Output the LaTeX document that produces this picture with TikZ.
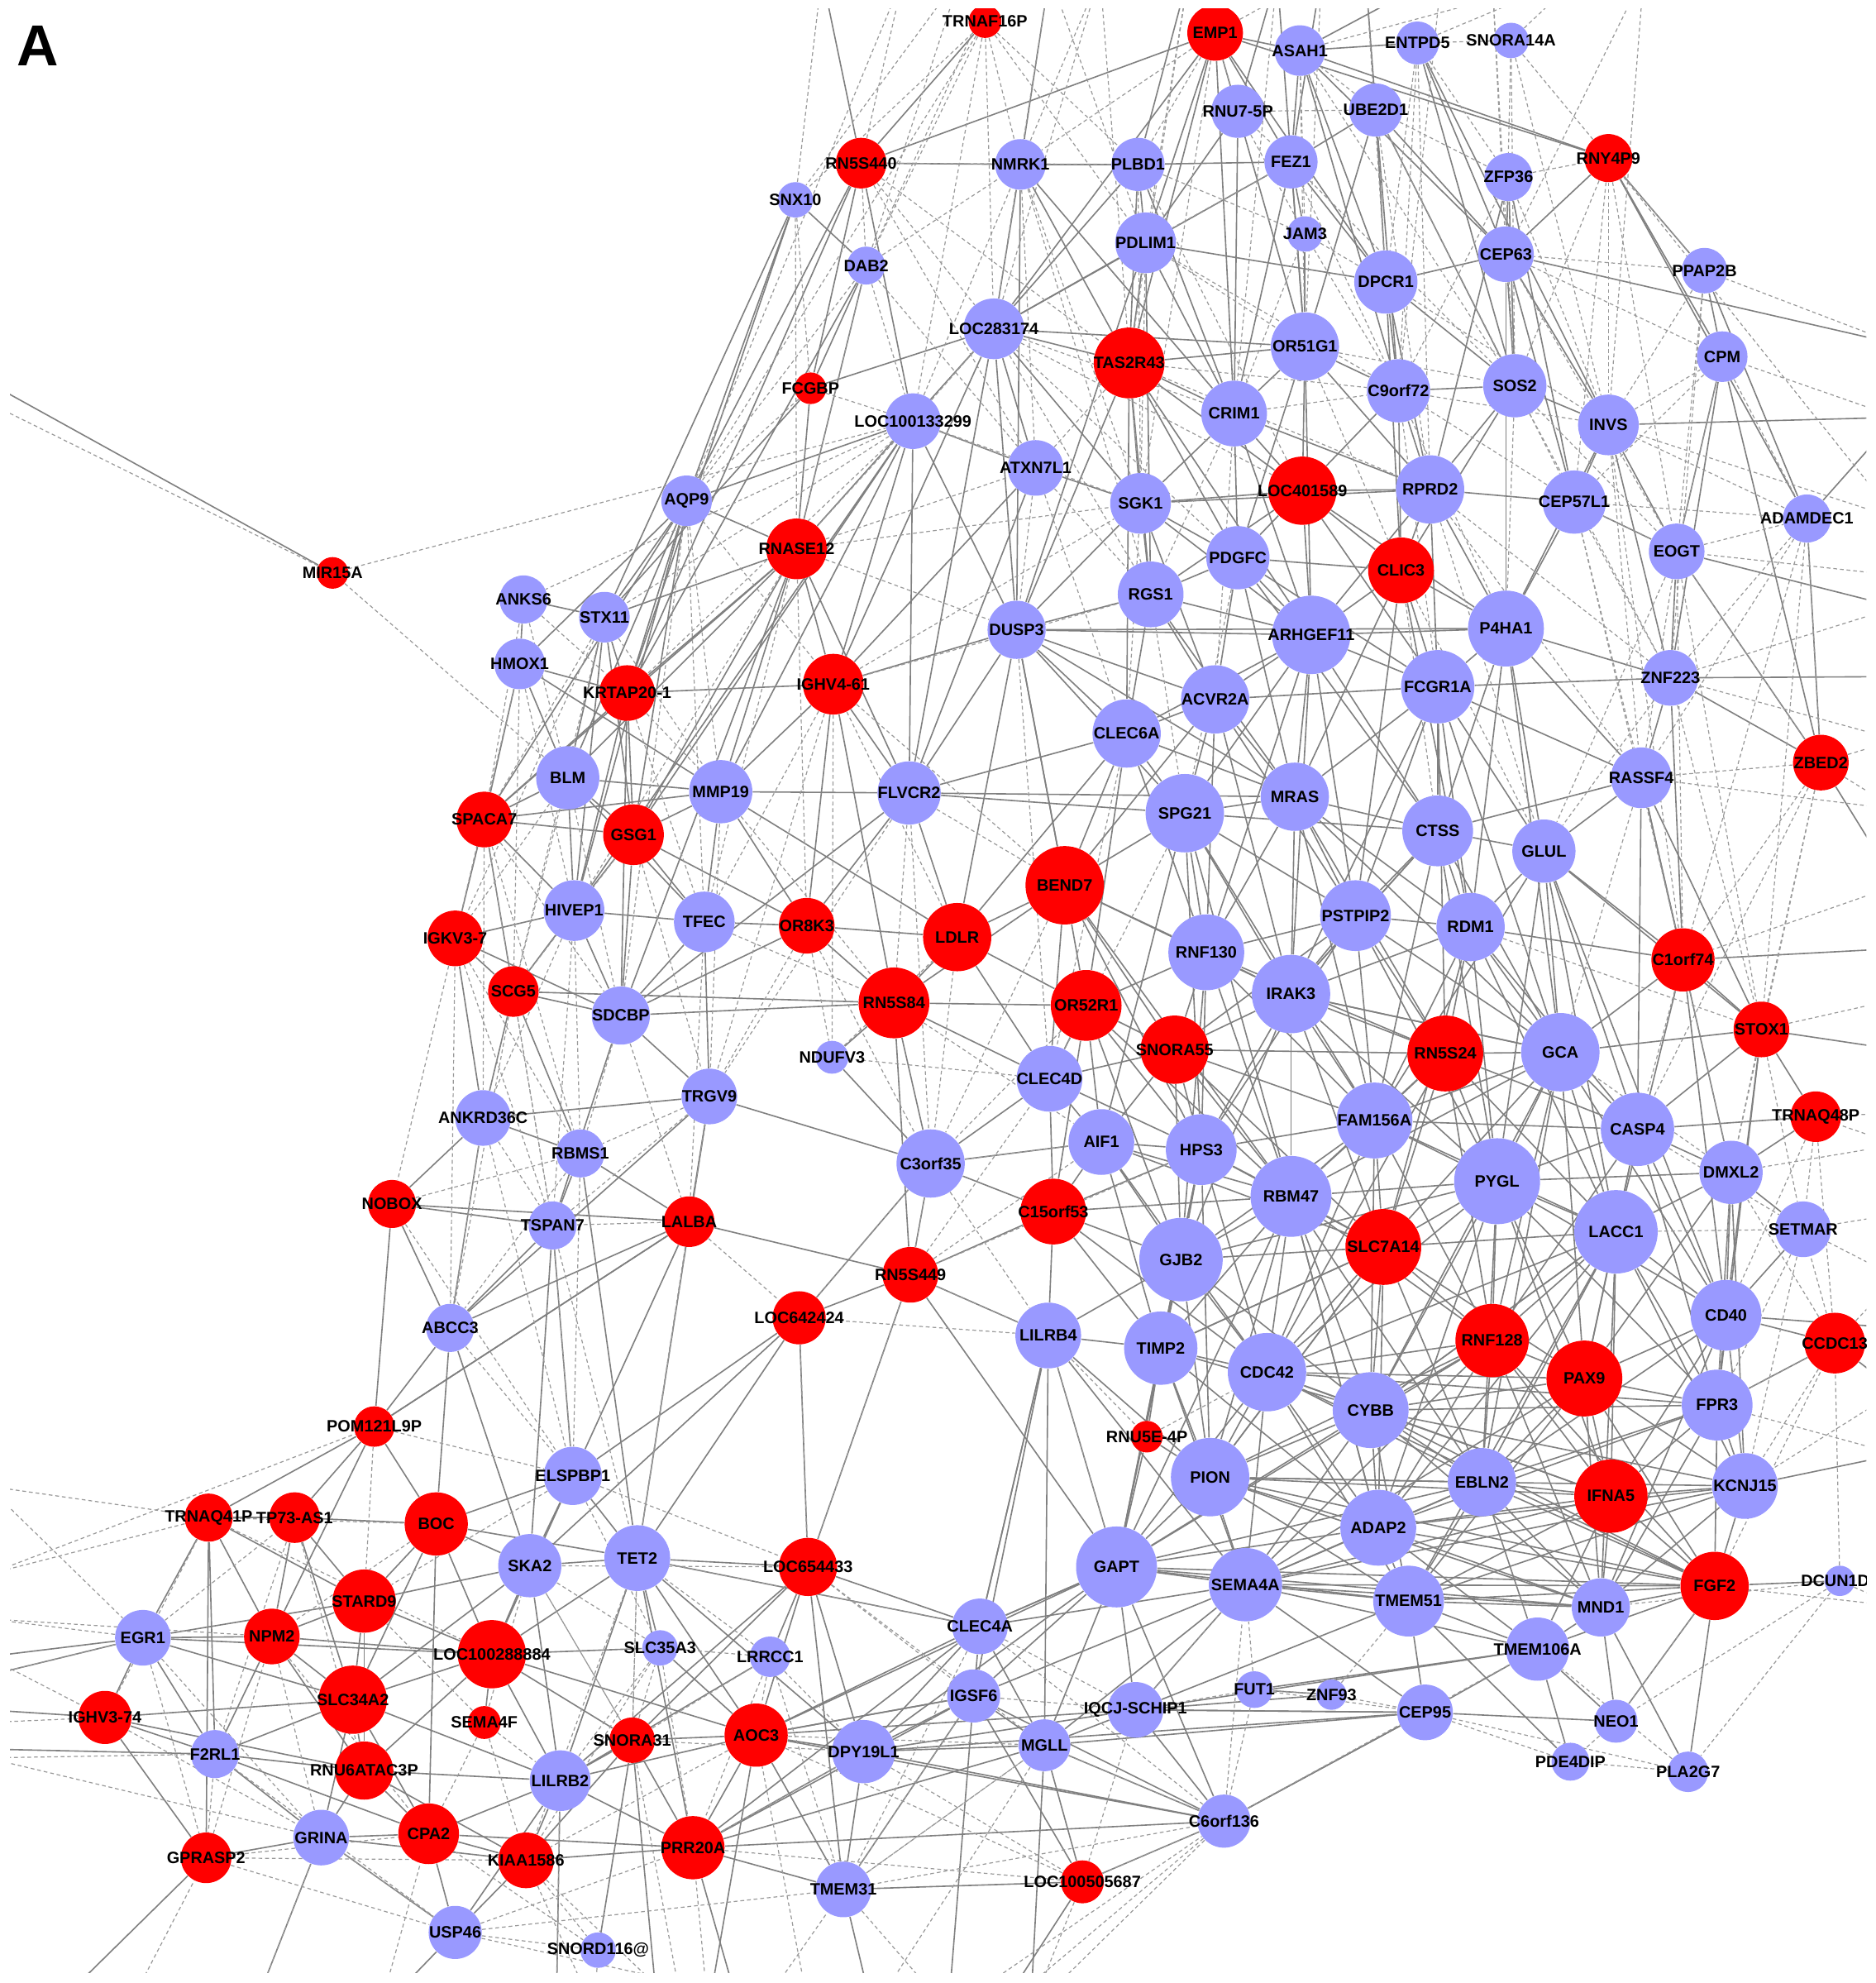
\documentclass[tikz,border=0pt]{standalone}
\usepackage{fontspec}
\setmainfont{Liberation Sans}
\definecolor{nred}{RGB}{255,0,0}
\definecolor{nblue}{RGB}{153,153,255}
\pgfdeclarelayer{back}
\pgfdeclarelayer{bg}
\pgfsetlayers{back,bg,main}
\tikzset{
  gnode/.style={circle,draw=none,inner sep=0pt,font=\fontsize{7.4}{8}\selectfont\bfseries},
  sedge/.style={draw=black!50,line width=0.6pt},
  dedge/.style={draw=black!40,line width=0.45pt,dash pattern=on 1.7pt off 1.3pt},
  panel/.style={font=\fontsize{26}{28}\selectfont\bfseries}
}
\newcommand\gn[6]{\node[gnode,fill=#5,minimum size=#4*0.04cm] (#1) at (#2,#3) {\makebox[0pt]{#6}};}
\begin{document}
\begin{tikzpicture}[x=0.02cm,y=-0.02cm]
\begin{pgfonlayer}{back}
\fill[white] (0,0) rectangle (1483,1568);
\end{pgfonlayer}
\useasboundingbox (0,0) rectangle (1483,1568);
\node[panel] (lblA) at (30,36) {A};
\begin{scope}
\clip (8,7) rectangle (1476,1560);
% ---------------- nodes ----------------
\gn{TRNAF16P}{779}{17}{13}{nred}{TRNAF16P}
\gn{EMP1}{961}{26}{22}{nred}{EMP1}
\gn{ASAH1}{1028}{40}{20}{nblue}{ASAH1}
\gn{ENTPD5}{1121}{34}{17}{nblue}{ENTPD5}
\gn{SNORA14A}{1195}{32}{14}{nblue}{SNORA14A}
\gn{RNU75P}{979}{88}{21}{nblue}{RNU7-5P}
\gn{UBE2D1}{1088}{87}{21}{nblue}{UBE2D1}
\gn{RN5S440}{681}{129}{20}{nred}{RN5S440}
\gn{NMRK1}{807}{130}{20}{nblue}{NMRK1}
\gn{PLBD1}{900}{130}{21}{nblue}{PLBD1}
\gn{FEZ1}{1021}{128}{21}{nblue}{FEZ1}
\gn{RNY4P9}{1272}{125}{19}{nred}{RNY4P9}
\gn{ZFP36}{1193}{140}{19}{nblue}{ZFP36}
\gn{SNX10}{629}{158}{14}{nblue}{SNX10}
\gn{DAB2}{685}{210}{15}{nblue}{DAB2}
\gn{PDLIM1}{906}{192}{24}{nblue}{PDLIM1}
\gn{JAM3}{1032}{185}{14}{nblue}{JAM3}
\gn{CEP63}{1191}{201}{22}{nblue}{CEP63}
\gn{DPCR1}{1096}{223}{25}{nblue}{DPCR1}
\gn{PPAP2B}{1348}{214}{18}{nblue}{PPAP2B}
\gn{LOC283174}{786}{260}{24}{nblue}{LOC283174}
\gn{TAS2R43}{893}{287}{28}{nred}{TAS2R43}
\gn{OR51G1}{1032}{274}{27}{nblue}{OR51G1}
\gn{CPM}{1362}{282}{20}{nblue}{CPM}
\gn{C9orf72}{1106}{309}{25}{nblue}{C9orf72}
\gn{SOS2}{1198}{305}{25}{nblue}{SOS2}
\gn{FCGBP}{641}{307}{12.5}{nred}{FCGBP}
\gn{LOC100133299}{722}{333}{22}{nblue}{LOC100133299}
\gn{CRIM1}{976}{327}{26}{nblue}{CRIM1}
\gn{INVS}{1272}{336}{24}{nblue}{INVS}
\gn{ATXN7L1}{819}{370}{22}{nblue}{ATXN7L1}
\gn{AQP9}{543}{396}{20}{nblue}{AQP9}
\gn{SGK1}{902}{398}{24}{nblue}{SGK1}
\gn{LOC401589}{1030}{388}{27}{nred}{LOC401589}
\gn{RPRD2}{1131}{387}{27}{nblue}{RPRD2}
\gn{CEP57L1}{1245}{397}{25}{nblue}{CEP57L1}
\gn{ADAMDEC1}{1429}{410}{19}{nblue}{ADAMDEC1}
\gn{MIR15A}{263}{453}{12.5}{nred}{MIR15A}
\gn{RNASE12}{630}{434}{24}{nred}{RNASE12}
\gn{PDGFC}{979}{441}{25}{nblue}{PDGFC}
\gn{CLIC3}{1108}{451}{26}{nred}{CLIC3}
\gn{EOGT}{1326}{436}{22}{nblue}{EOGT}
\gn{ANKS6}{414}{474}{19}{nblue}{ANKS6}
\gn{STX11}{478}{488}{20}{nblue}{STX11}
\gn{RGS1}{910}{470}{26}{nblue}{RGS1}
\gn{DUSP3}{804}{498}{23}{nblue}{DUSP3}
\gn{ARHGEF11}{1037}{502}{31}{nblue}{ARHGEF11}
\gn{P4HA1}{1191}{497}{30}{nblue}{P4HA1}
\gn{HMOX1}{411}{525}{20}{nblue}{HMOX1}
\gn{KRTAP201}{496}{548}{22}{nred}{KRTAP20-1}
\gn{IGHV461}{659}{541}{24}{nred}{IGHV4-61}
\gn{ACVR2A}{961}{553}{27}{nblue}{ACVR2A}
\gn{FCGR1A}{1137}{543}{29}{nblue}{FCGR1A}
\gn{ZNF223}{1321}{536}{22}{nblue}{ZNF223}
\gn{CLEC6A}{891}{580}{27}{nblue}{CLEC6A}
\gn{ZBED2}{1440}{603}{22}{nred}{ZBED2}
\gn{BLM}{449}{615}{25}{nblue}{BLM}
\gn{MMP19}{570}{626}{25}{nblue}{MMP19}
\gn{FLVCR2}{719}{627}{25}{nblue}{FLVCR2}
\gn{SPG21}{937}{643}{31}{nblue}{SPG21}
\gn{MRAS}{1024}{630}{27}{nblue}{MRAS}
\gn{RASSF4}{1298}{615}{24}{nblue}{RASSF4}
\gn{SPACA7}{383}{648}{22}{nred}{SPACA7}
\gn{GSG1}{501}{660}{24}{nred}{GSG1}
\gn{CTSS}{1137}{657}{28}{nblue}{CTSS}
\gn{GLUL}{1221}{673}{25}{nblue}{GLUL}
\gn{BEND7}{842}{700}{31}{nred}{BEND7}
\gn{HIVEP1}{454}{720}{24}{nblue}{HIVEP1}
\gn{TFEC}{557}{729}{24}{nblue}{TFEC}
\gn{OR8K3}{638}{732}{22}{nred}{OR8K3}
\gn{LDLR}{757}{741}{27}{nred}{LDLR}
\gn{PSTPIP2}{1072}{724}{28}{nblue}{PSTPIP2}
\gn{RDM1}{1163}{733}{27}{nblue}{RDM1}
\gn{IGKV37}{360}{742}{22}{nred}{IGKV3-7}
\gn{RNF130}{954}{753}{30}{nblue}{RNF130}
\gn{C1orf74}{1331}{759}{25}{nred}{C1orf74}
\gn{IRAK3}{1021}{786}{31}{nblue}{IRAK3}
\gn{SCG5}{406}{784}{20}{nred}{SCG5}
\gn{RN5S84}{707}{793}{28}{nred}{RN5S84}
\gn{OR52R1}{859}{795}{28}{nred}{OR52R1}
\gn{SDCBP}{491}{803}{23}{nblue}{SDCBP}
\gn{STOX1}{1393}{814}{22}{nred}{STOX1}
\gn{NDUFV3}{658}{836}{13}{nblue}{NDUFV3}
\gn{SNORA55}{929}{830}{27}{nred}{SNORA55}
\gn{RN5S24}{1143}{833}{30}{nred}{RN5S24}
\gn{GCA}{1234}{832}{31}{nblue}{GCA}
\gn{CLEC4D}{830}{853}{26}{nblue}{CLEC4D}
\gn{TRGV9}{561}{867}{22}{nblue}{TRGV9}
\gn{ANKRD36C}{382}{884}{22}{nblue}{ANKRD36C}
\gn{FAM156A}{1087}{886}{30}{nblue}{FAM156A}
\gn{TRNAQ48P}{1436}{883}{20}{nred}{TRNAQ48P}
\gn{CASP4}{1295}{893}{29}{nblue}{CASP4}
\gn{AIF1}{871}{903}{26}{nblue}{AIF1}
\gn{HPS3}{950}{909}{28}{nblue}{HPS3}
\gn{RBMS1}{459}{912}{19}{nblue}{RBMS1}
\gn{C3orf35}{736}{920}{27}{nblue}{C3orf35}
\gn{PYGL}{1184}{934}{34}{nblue}{PYGL}
\gn{DMXL2}{1369}{927}{25}{nblue}{DMXL2}
\gn{RBM47}{1021}{946}{32}{nblue}{RBM47}
\gn{NOBOX}{310}{952}{19}{nred}{NOBOX}
\gn{C15orf53}{833}{958}{26}{nred}{C15orf53}
\gn{TSPAN7}{437}{969}{19}{nblue}{TSPAN7}
\gn{LALBA}{545}{966}{20}{nred}{LALBA}
\gn{LACC1}{1278}{974}{33}{nblue}{LACC1}
\gn{SETMAR}{1426}{972}{22}{nblue}{SETMAR}
\gn{GJB2}{934}{996}{33}{nblue}{GJB2}
\gn{SLC7A14}{1094}{986}{30}{nred}{SLC7A14}
\gn{RN5S449}{720}{1008}{22}{nred}{RN5S449}
\gn{CD40}{1365}{1040}{28}{nblue}{CD40}
\gn{LOC642424}{632}{1042}{21}{nred}{LOC642424}
\gn{ABCC3}{356}{1050}{19}{nblue}{ABCC3}
\gn{LILRB4}{829}{1056}{26}{nblue}{LILRB4}
\gn{RNF128}{1180}{1060}{29}{nred}{RNF128}
\gn{TIMP2}{918}{1066}{29}{nblue}{TIMP2}
\gn{CCDC13}{1451}{1062}{24}{nred}{CCDC13}
\gn{CDC42}{1002}{1085}{31}{nblue}{CDC42}
\gn{PAX9}{1253}{1090}{30}{nred}{PAX9}
\gn{CYBB}{1084}{1115}{30}{nblue}{CYBB}
\gn{FPR3}{1358}{1111}{28}{nblue}{FPR3}
\gn{POM121L9P}{296}{1128}{16}{nred}{POM121L9P}
\gn{RNU5E4P}{907}{1136}{12.5}{nred}{RNU5E-4P}
\gn{PION}{957}{1168}{31}{nblue}{PION}
\gn{ELSPBP1}{453}{1167}{23}{nblue}{ELSPBP1}
\gn{EBLN2}{1172}{1172}{27}{nblue}{EBLN2}
\gn{IFNA5}{1274}{1183}{29}{nred}{IFNA5}
\gn{KCNJ15}{1380}{1175}{26}{nblue}{KCNJ15}
\gn{TRNAQ41P}{165}{1200}{19}{nred}{TRNAQ41P}
\gn{TP73AS1}{233}{1200}{20}{nred}{TP73-AS1}
\gn{BOC}{345}{1205}{25}{nred}{BOC}
\gn{ADAP2}{1090}{1208}{30}{nblue}{ADAP2}
\gn{TET2}{504}{1232}{26}{nblue}{TET2}
\gn{SKA2}{419}{1238}{25}{nblue}{SKA2}
\gn{LOC654433}{639}{1239}{23}{nred}{LOC654433}
\gn{GAPT}{883}{1239}{32}{nblue}{GAPT}
\gn{SEMA4A}{985}{1253}{29}{nblue}{SEMA4A}
\gn{FGF2}{1356}{1254}{27}{nred}{FGF2}
\gn{DCUN1D}{1455}{1250}{12}{nblue}{DCUN1D1}
\gn{STARD9}{288}{1266}{25}{nred}{STARD9}
\gn{TMEM51}{1114}{1266}{28}{nblue}{TMEM51}
\gn{MND1}{1266}{1271}{23}{nblue}{MND1}
\gn{EGR1}{113}{1295}{22}{nblue}{EGR1}
\gn{NPM2}{215}{1294}{22}{nred}{NPM2}
\gn{CLEC4A}{775}{1286}{22}{nblue}{CLEC4A}
\gn{LOC100288884}{389}{1308}{27}{nred}{LOC100288884}
\gn{SLC35A3}{522}{1303}{14}{nblue}{SLC35A3}
\gn{LRRCC1}{609}{1310}{16}{nblue}{LRRCC1}
\gn{TMEM106A}{1216}{1304}{25}{nblue}{TMEM106A}
\gn{SLC34A2}{279}{1344}{27}{nred}{SLC34A2}
\gn{IGSF6}{770}{1341}{21}{nblue}{IGSF6}
\gn{FUT1}{992}{1336}{14.5}{nblue}{FUT1}
\gn{ZNF93}{1053}{1340}{12}{nblue}{ZNF93}
\gn{IQCJ}{898}{1352}{22}{nblue}{IQCJ-SCHIP1}
\gn{CEP95}{1127}{1354}{22}{nblue}{CEP95}
\gn{NEO1}{1278}{1361}{17}{nblue}{NEO1}
\gn{IGHV374}{83}{1358}{21}{nred}{IGHV3-74}
\gn{SEMA4F}{383}{1362}{13}{nred}{SEMA4F}
\gn{SNORA31}{500}{1376}{18}{nred}{SNORA31}
\gn{AOC3}{598}{1372}{25}{nred}{AOC3}
\gn{MGLL}{826}{1380}{20.5}{nblue}{MGLL}
\gn{DPY19L1}{683}{1385}{25}{nblue}{DPY19L1}
\gn{F2RL1}{170}{1387}{19}{nblue}{F2RL1}
\gn{RNU6ATAC3P}{288}{1400}{23}{nred}{RNU6ATAC3P}
\gn{LILRB2}{443}{1408}{24}{nblue}{LILRB2}
\gn{PDE4DIP}{1242}{1393}{15}{nblue}{PDE4DIP}
\gn{PLA2G7}{1335}{1401}{16}{nblue}{PLA2G7}
\gn{C6orf136}{968}{1440}{21}{nblue}{C6orf136}
\gn{CPA2}{339}{1450}{24}{nred}{CPA2}
\gn{GRINA}{254}{1453}{22}{nblue}{GRINA}
\gn{GPRASP2}{163}{1469}{20}{nred}{GPRASP2}
\gn{KIAA1586}{416}{1471}{22}{nred}{KIAA1586}
\gn{PRR20A}{548}{1461}{25}{nred}{PRR20A}
\gn{LOC100505687}{856}{1488}{17}{nred}{LOC100505687}
\gn{TMEM31}{667}{1494}{22}{nblue}{TMEM31}
\gn{USP46}{360}{1528}{21}{nblue}{USP46}
\gn{SNORD116}{473}{1542}{14}{nblue}{SNORD116@}
% ---------------- free ends outside the frame ----------------
\foreach \n/\x/\y in {T1/650/-20,T2/715/-20,T3/760/-20,T4/830/-20,T5/870/-20,T6/985/-20,T7/1045/-20,T8/1140/-20,T9/1250/-20,T10/1080/-20,T11/940/-20,T12/1180/-20,T13/1300/-20,T14/790/-20,T15/1010/-20,
  R1/1500/272,R2/1500/330,R3/1500/410,R4/1500/535,R5/1500/585,R6/1500/750,R7/1500/790,R8/1500/830,R9/1500/880,R10/1500/960,R11/1500/1010,R12/1500/1100,R13/1500/1270,R14/1500/640,R15/1500/455,R16/1500/480,R17/1500/700,R18/1500/905,R19/1500/1050,R20/1500/1150,
  L1/-10/302,L2/-10/318,L3/-10/1280,L4/-10/1310,L5/-10/1325,L6/-10/1352,L7/-10/1362,L8/-10/1383,L9/-10/1390,L10/-10/1175,L11/-10/1245,
  B1/40/1590,B2/100/1590,B3/200/1590,B4/300/1590,B5/470/1590,B6/520/1590,B7/585/1590,B8/600/1590,B9/690/1590,B10/750/1590,B11/790/1590,B12/815/1590,B13/540/1590,B14/640/1590,B15/560/1590,B16/440/1590}
  \coordinate (\n) at (\x,\y);
% ---------------- edges ----------------
\begin{pgfonlayer}{bg}
\begin{scope}
\clip (8,7) rectangle (1476,1560);
\foreach \a/\b in {
RN5S440/NMRK1,NMRK1/PLBD1,PLBD1/FEZ1,RN5S440/EMP1,SNX10/DAB2,DAB2/FCGBP,RN5S440/FCGBP,EMP1/ASAH1,ASAH1/ENTPD5,EMP1/RNY4P9,ASAH1/RNY4P9,EMP1/TAS2R43,EMP1/OR51G1,EMP1/DPCR1,EMP1/CRIM1,EMP1/PDLIM1,EMP1/FEZ1,ASAH1/FEZ1,ASAH1/DPCR1,ASAH1/CEP63,ASAH1/C9orf72,UBE2D1/DPCR1,UBE2D1/OR51G1,UBE2D1/SOS2,UBE2D1/FEZ1,RNU75P/CRIM1,RNU75P/PDLIM1,FEZ1/OR51G1,FEZ1/CRIM1,FEZ1/LOC283174,PLBD1/LOC283174,PLBD1/PDLIM1,PDLIM1/TAS2R43,PDLIM1/DPCR1,PDLIM1/LOC283174,NMRK1/LOC283174,NMRK1/TAS2R43,LOC283174/TAS2R43,LOC283174/FCGBP,LOC283174/OR51G1,TAS2R43/CRIM1,TAS2R43/OR51G1,TAS2R43/SGK1,TAS2R43/LOC401589,OR51G1/CRIM1,OR51G1/C9orf72,OR51G1/LOC401589,C9orf72/SOS2,C9orf72/RPRD2,SOS2/CEP63,CEP63/ZFP36,CEP63/DPCR1,CEP63/INVS,CEP63/RNY4P9,CEP63/CEP57L1,SOS2/INVS,SOS2/RPRD2,SOS2/CLIC3,INVS/CEP57L1,INVS/EOGT,RNY4P9/CPM,RNY4P9/ADAMDEC1,PPAP2B/CPM,PPAP2B/ADAMDEC1,CPM/EOGT,CPM/ZBED2,CRIM1/LOC401589,CRIM1/SGK1,CRIM1/RPRD2,LOC100133299/ATXN7L1,LOC100133299/AQP9,ATXN7L1/SGK1,DPCR1/C9orf72,DPCR1/RPRD2,JAM3/OR51G1,JAM3/FEZ1,TRNAF16P/RN5S440,SNX10/AQP9,RN5S440/AQP9,RN5S440/LOC100133299,PLBD1/TAS2R43,PDLIM1/CRIM1,FEZ1/DPCR1,UBE2D1/CEP63,UBE2D1/C9orf72,DPCR1/SOS2,DPCR1/CLIC3,OR51G1/RPRD2,C9orf72/LOC401589,C9orf72/CLIC3,ZFP36/SOS2,ZFP36/CEP57L1,ZFP36/RPRD2,CEP63/P4HA1,INVS/P4HA1,INVS/ZNF223,CPM/ZNF223,PPAP2B/RNY4P9,ENTPD5/SOS2,ENTPD5/CEP63,ENTPD5/INVS,EMP1/LOC283174,PLBD1/CRIM1,NMRK1/CRIM1,LOC283174/ATXN7L1,LOC283174/SGK1,LOC283174/DUSP3,TAS2R43/RGS1,TAS2R43/PDGFC,TAS2R43/ARHGEF11,CRIM1/PDGFC,CRIM1/ARHGEF11,OR51G1/PDGFC,OR51G1/ARHGEF11,LOC401589/FCGR1A,RPRD2/ARHGEF11,
AQP9/STX11,AQP9/KRTAP201,AQP9/HMOX1,AQP9/RNASE12,AQP9/GSG1,AQP9/BLM,RNASE12/STX11,RNASE12/KRTAP201,RNASE12/IGHV461,RNASE12/FLVCR2,RNASE12/GSG1,RNASE12/MMP19,ANKS6/STX11,ANKS6/HMOX1,STX11/KRTAP201,STX11/BLM,STX11/GSG1,STX11/HIVEP1,HMOX1/KRTAP201,HMOX1/SPACA7,HMOX1/BLM,HMOX1/MMP19,KRTAP201/GSG1,KRTAP201/HIVEP1,KRTAP201/SPACA7,KRTAP201/IGHV461,KRTAP201/SDCBP,IGHV461/FLVCR2,IGHV461/DUSP3,IGHV461/MMP19,IGHV461/OR8K3,IGHV461/RN5S84,BLM/SPACA7,BLM/GSG1,BLM/MMP19,BLM/HIVEP1,BLM/TFEC,MMP19/GSG1,MMP19/FLVCR2,MMP19/TFEC,MMP19/SPACA7,MMP19/OR8K3,MMP19/LDLR,FLVCR2/LDLR,FLVCR2/OR8K3,FLVCR2/SPG21,FLVCR2/CLEC6A,FLVCR2/MRAS,FLVCR2/SDCBP,SPACA7/GSG1,SPACA7/IGKV37,SPACA7/SCG5,SPACA7/HIVEP1,GSG1/HIVEP1,GSG1/TFEC,GSG1/SDCBP,GSG1/OR8K3,HIVEP1/TFEC,HIVEP1/SCG5,HIVEP1/IGKV37,HIVEP1/SDCBP,TFEC/OR8K3,TFEC/SDCBP,TFEC/TRGV9,OR8K3/LDLR,OR8K3/RN5S84,OR8K3/SDCBP,LDLR/RN5S84,LDLR/BEND7,LDLR/OR52R1,LDLR/CLEC4D,IGKV37/SCG5,IGKV37/SDCBP,IGKV37/ANKRD36C,SCG5/SDCBP,SCG5/RN5S84,SCG5/ANKRD36C,SCG5/RBMS1,SDCBP/RN5S84,SDCBP/TRGV9,SDCBP/TSPAN7,RN5S84/NDUFV3,RN5S84/OR52R1,RN5S84/C3orf35,RN5S84/CLEC4D,RN5S84/BEND7,RN5S84/RN5S449,TRGV9/ANKRD36C,TRGV9/C3orf35,TRGV9/LALBA,ANKRD36C/RBMS1,ANKRD36C/NOBOX,RBMS1/TSPAN7,RBMS1/LALBA,NOBOX/TSPAN7,NOBOX/LALBA,NOBOX/ABCC3,NOBOX/POM121L9P,TSPAN7/ABCC3,LALBA/RN5S449,LALBA/ABCC3,LALBA/POM121L9P,LOC642424/RN5S449,LOC642424/C3orf35,LOC642424/ELSPBP1,ABCC3/POM121L9P,ABCC3/ANKRD36C,ABCC3/TRGV9,NDUFV3/C3orf35,
DUSP3/RGS1,DUSP3/SGK1,DUSP3/ARHGEF11,DUSP3/CLEC6A,DUSP3/ACVR2A,DUSP3/SPG21,DUSP3/FLVCR2,DUSP3/P4HA1,SGK1/RGS1,SGK1/PDGFC,SGK1/LOC401589,SGK1/ACVR2A,SGK1/RPRD2,RGS1/PDGFC,RGS1/ARHGEF11,RGS1/ACVR2A,RGS1/CLEC6A,RGS1/LOC401589,PDGFC/ARHGEF11,PDGFC/ACVR2A,PDGFC/LOC401589,PDGFC/CLIC3,PDGFC/FCGR1A,LOC401589/RPRD2,LOC401589/ARHGEF11,LOC401589/CLIC3,LOC401589/P4HA1,RPRD2/CLIC3,RPRD2/CEP57L1,RPRD2/P4HA1,RPRD2/FCGR1A,CLIC3/P4HA1,CLIC3/FCGR1A,CLIC3/ARHGEF11,CEP57L1/P4HA1,CEP57L1/EOGT,EOGT/ZNF223,P4HA1/ZNF223,P4HA1/FCGR1A,P4HA1/ARHGEF11,P4HA1/RASSF4,P4HA1/GLUL,P4HA1/CTSS,ARHGEF11/ACVR2A,ARHGEF11/FCGR1A,ARHGEF11/MRAS,ARHGEF11/SPG21,ARHGEF11/CLEC6A,FCGR1A/CTSS,FCGR1A/MRAS,FCGR1A/GLUL,FCGR1A/RASSF4,FCGR1A/ZNF223,FCGR1A/PSTPIP2,FCGR1A/ACVR2A,ACVR2A/CLEC6A,ACVR2A/SPG21,ACVR2A/MRAS,CLEC6A/SPG21,CLEC6A/BEND7,CLEC6A/MRAS,SPG21/MRAS,SPG21/BEND7,SPG21/RNF130,SPG21/IRAK3,SPG21/PSTPIP2,SPG21/CTSS,MRAS/CTSS,MRAS/PSTPIP2,MRAS/IRAK3,MRAS/RNF130,CTSS/GLUL,CTSS/PSTPIP2,CTSS/RDM1,CTSS/RASSF4,GLUL/RDM1,GLUL/RASSF4,GLUL/C1orf74,GLUL/GCA,ZNF223/RASSF4,ZNF223/ZBED2,ZNF223/C1orf74,RASSF4/C1orf74,RASSF4/STOX1,C1orf74/STOX1,C1orf74/RDM1,C1orf74/GCA,STOX1/TRNAQ48P,STOX1/CASP4,ZBED2/ADAMDEC1,ZBED2/EOGT,
BEND7/OR52R1,BEND7/RNF130,BEND7/SNORA55,BEND7/IRAK3,BEND7/CLEC4D,BEND7/DUSP3,OR52R1/SNORA55,OR52R1/CLEC4D,OR52R1/AIF1,OR52R1/RNF130,OR52R1/C15orf53,OR52R1/HPS3,RNF130/IRAK3,RNF130/PSTPIP2,RNF130/SNORA55,RNF130/HPS3,RNF130/RBM47,IRAK3/PSTPIP2,IRAK3/RDM1,IRAK3/SNORA55,IRAK3/FAM156A,IRAK3/RN5S24,IRAK3/RBM47,IRAK3/HPS3,PSTPIP2/RDM1,PSTPIP2/RN5S24,PSTPIP2/FAM156A,PSTPIP2/GCA,RDM1/RN5S24,RDM1/GCA,RDM1/FAM156A,RDM1/CASP4,SNORA55/HPS3,SNORA55/CLEC4D,SNORA55/RN5S24,SNORA55/AIF1,SNORA55/RBM47,SNORA55/FAM156A,RN5S24/GCA,RN5S24/FAM156A,RN5S24/PYGL,RN5S24/SLC7A14,GCA/PYGL,GCA/CASP4,GCA/LACC1,GCA/FAM156A,GCA/SLC7A14,GCA/STOX1,CLEC4D/AIF1,CLEC4D/C3orf35,CLEC4D/C15orf53,CLEC4D/HPS3,AIF1/HPS3,AIF1/C15orf53,AIF1/C3orf35,AIF1/GJB2,AIF1/RBM47,HPS3/RBM47,HPS3/GJB2,HPS3/FAM156A,HPS3/C15orf53,FAM156A/RBM47,FAM156A/PYGL,FAM156A/SLC7A14,C3orf35/C15orf53,C3orf35/RN5S449,C15orf53/GJB2,C15orf53/LILRB4,C15orf53/RN5S449,C15orf53/TIMP2,RBM47/GJB2,RBM47/SLC7A14,RBM47/PYGL,RBM47/CDC42,RBM47/TIMP2,GJB2/TIMP2,GJB2/CDC42,GJB2/SLC7A14,GJB2/LILRB4,SLC7A14/PYGL,SLC7A14/RNF128,SLC7A14/CYBB,SLC7A14/CDC42,SLC7A14/LACC1,PYGL/LACC1,PYGL/CASP4,PYGL/RNF128,PYGL/PAX9,CASP4/LACC1,CASP4/DMXL2,CASP4/TRNAQ48P,DMXL2/LACC1,DMXL2/SETMAR,DMXL2/CD40,DMXL2/TRNAQ48P,LACC1/CD40,LACC1/PAX9,LACC1/RNF128,LACC1/FPR3,SETMAR/CD40,CD40/FPR3,CD40/PAX9,CD40/CCDC13,RNF128/PAX9,RNF128/CYBB,RNF128/EBLN2,RNF128/CDC42,PAX9/FPR3,PAX9/IFNA5,PAX9/EBLN2,PAX9/CYBB,FPR3/KCNJ15,FPR3/IFNA5,FPR3/FGF2,CYBB/CDC42,CYBB/EBLN2,CYBB/ADAP2,CYBB/PION,CYBB/IFNA5,TIMP2/CDC42,TIMP2/LILRB4,TIMP2/PION,TIMP2/GAPT,CDC42/PION,CDC42/ADAP2,CDC42/SEMA4A,CDC42/EBLN2,PION/ADAP2,PION/GAPT,PION/SEMA4A,PION/EBLN2,EBLN2/IFNA5,EBLN2/ADAP2,EBLN2/TMEM51,IFNA5/KCNJ15,IFNA5/FGF2,IFNA5/MND1,IFNA5/ADAP2,KCNJ15/FGF2,KCNJ15/MND1,ADAP2/TMEM51,ADAP2/SEMA4A,ADAP2/GAPT,ADAP2/MND1,GAPT/SEMA4A,GAPT/CLEC4A,GAPT/IGSF6,GAPT/LILRB4,SEMA4A/TMEM51,SEMA4A/MND1,SEMA4A/FGF2,SEMA4A/TMEM106A,TMEM51/MND1,TMEM51/FGF2,TMEM51/TMEM106A,MND1/FGF2,MND1/TMEM106A,MND1/NEO1,MND1/PLA2G7,FGF2/DCUN1D,FGF2/PLA2G7,TMEM106A/CEP95,TMEM106A/FUT1,CEP95/NEO1,CEP95/C6orf136,CEP95/IQCJ,FUT1/ZNF93,LILRB4/CLEC4A,RNU5E4P/TIMP2,RNU5E4P/GAPT,RNU5E4P/PION,
CYBB/FPR3,CYBB/KCNJ15,CDC42/IFNA5,ADAP2/FGF2,EBLN2/FGF2,PION/FGF2,GAPT/FGF2,SEMA4A/KCNJ15,PION/IFNA5,TIMP2/ADAP2,GJB2/CYBB,GJB2/PION,RBM47/RNF128,FAM156A/LACC1,SLC7A14/PAX9,PYGL/FPR3,PYGL/CD40,RN5S24/CASP4,HPS3/SLC7A14,AIF1/TIMP2,SPG21/HPS3,SPG21/RBM47,CLEC6A/OR52R1,ACVR2A/IRAK3,ARHGEF11/PSTPIP2,MRAS/RN5S24,MRAS/FAM156A,CTSS/GCA,FCGR1A/RDM1,GLUL/LACC1,GLUL/CASP4,RASSF4/CASP4,RASSF4/DMXL2,C1orf74/LACC1,C1orf74/CD40,STOX1/CD40,STOX1/FPR3,CD40/KCNJ15,FPR3/CCDC13,LACC1/IFNA5,LACC1/KCNJ15,RNF128/IFNA5,RNF128/ADAP2,RNF128/MND1,PAX9/MND1,PAX9/KCNJ15,CDC42/TMEM51,CDC42/GAPT,
TRNAQ41P/TP73AS1,TRNAQ41P/EGR1,TRNAQ41P/NPM2,TRNAQ41P/STARD9,TRNAQ41P/GPRASP2,TRNAQ41P/F2RL1,TP73AS1/BOC,TP73AS1/NPM2,TP73AS1/STARD9,TP73AS1/POM121L9P,TP73AS1/SLC34A2,POM121L9P/BOC,POM121L9P/NPM2,POM121L9P/TRNAQ41P,BOC/STARD9,BOC/ELSPBP1,BOC/SKA2,BOC/LOC100288884,BOC/SLC34A2,BOC/TET2,BOC/CPA2,ELSPBP1/SKA2,ELSPBP1/TET2,ELSPBP1/LOC100288884,SKA2/TET2,SKA2/LOC100288884,SKA2/STARD9,SKA2/LILRB2,SKA2/SLC34A2,TET2/LOC654433,TET2/SLC35A3,TET2/AOC3,TET2/LOC100288884,TET2/LILRB2,TET2/PRR20A,TET2/DPY19L1,LOC654433/AOC3,LOC654433/LRRCC1,LOC654433/CLEC4A,LOC654433/TMEM31,LOC654433/LOC642424,LOC654433/DPY19L1,STARD9/NPM2,STARD9/EGR1,STARD9/LOC100288884,STARD9/SLC34A2,STARD9/RNU6ATAC3P,EGR1/NPM2,EGR1/IGHV374,EGR1/F2RL1,EGR1/SLC34A2,EGR1/LOC100288884,NPM2/SLC34A2,NPM2/LOC100288884,NPM2/F2RL1,NPM2/RNU6ATAC3P,LOC100288884/SLC34A2,LOC100288884/SEMA4F,LOC100288884/LILRB2,LOC100288884/SNORA31,LOC100288884/AOC3,LOC100288884/RNU6ATAC3P,SLC34A2/RNU6ATAC3P,SLC34A2/IGHV374,SLC34A2/F2RL1,SLC34A2/LILRB2,SLC34A2/CPA2,SLC34A2/GRINA,IGHV374/F2RL1,IGHV374/GPRASP2,IGHV374/RNU6ATAC3P,F2RL1/GRINA,F2RL1/RNU6ATAC3P,F2RL1/CPA2,RNU6ATAC3P/CPA2,RNU6ATAC3P/GRINA,RNU6ATAC3P/LILRB2,RNU6ATAC3P/KIAA1586,LILRB2/CPA2,LILRB2/KIAA1586,LILRB2/SNORA31,LILRB2/AOC3,LILRB2/PRR20A,CPA2/GRINA,CPA2/KIAA1586,CPA2/PRR20A,CPA2/USP46,GRINA/GPRASP2,GRINA/KIAA1586,KIAA1586/PRR20A,KIAA1586/USP46,KIAA1586/SNORA31,PRR20A/AOC3,PRR20A/TMEM31,PRR20A/SNORA31,PRR20A/DPY19L1,AOC3/DPY19L1,AOC3/SNORA31,AOC3/SLC35A3,AOC3/TMEM31,AOC3/CLEC4A,AOC3/IGSF6,DPY19L1/MGLL,DPY19L1/IGSF6,DPY19L1/CLEC4A,DPY19L1/TMEM31,DPY19L1/C6orf136,DPY19L1/IQCJ,MGLL/CLEC4A,MGLL/IGSF6,MGLL/IQCJ,MGLL/LOC100505687,MGLL/GAPT,IGSF6/CLEC4A,IGSF6/SEMA4A,CLEC4A/GAPT,CLEC4A/SEMA4A,CLEC4A/LILRB4,C6orf136/CEP95,C6orf136/LOC100505687,C6orf136/IQCJ,C6orf136/MGLL,TMEM31/LOC100505687,TMEM31/IGSF6,USP46/GRINA,USP46/LILRB2,SNORD116/SNORA31,
ELSPBP1/TSPAN7,ELSPBP1/LALBA,TET2/TRGV9,TET2/RBMS1,SKA2/TSPAN7,SKA2/ABCC3,BOC/ABCC3,POM121L9P/LALBA,LOC642424/TET2,LOC642424/SKA2,LOC654433/RN5S449,GAPT/RN5S449,LILRB4/RN5S449,LILRB4/IGSF6,LILRB4/MGLL,CLEC4A/TET2,IGSF6/AOC3,GAPT/IQCJ,GAPT/C6orf136,SEMA4A/IQCJ,SEMA4A/CEP95,TMEM51/CEP95,TMEM106A/NEO1,TMEM106A/PDE4DIP,TMEM51/PDE4DIP,ADAP2/TMEM106A,EBLN2/MND1,EBLN2/TMEM106A,FGF2/NEO1,IQCJ/ZNF93,IQCJ/CEP95,IGSF6/C6orf136,LOC100505687/IGSF6,
GCA/RNF128,GCA/PAX9,GCA/CYBB,GCA/EBLN2,GCA/CD40,GCA/RBM47,GCA/IRAK3,PYGL/CYBB,PYGL/EBLN2,PYGL/IFNA5,PYGL/ADAP2,PYGL/CDC42,PYGL/GJB2,PYGL/DMXL2,LACC1/EBLN2,LACC1/CYBB,LACC1/ADAP2,LACC1/TMEM51,LACC1/MND1,CASP4/CD40,CASP4/FPR3,CASP4/PAX9,CASP4/RNF128,DMXL2/PAX9,DMXL2/KCNJ15,DMXL2/FPR3,CD40/IFNA5,CD40/EBLN2,CD40/MND1,FPR3/EBLN2,FPR3/MND1,FPR3/ADAP2,KCNJ15/EBLN2,KCNJ15/TMEM51,KCNJ15/ADAP2,FGF2/CYBB,FGF2/CDC42,FGF2/PAX9,FGF2/TMEM106A,FGF2/RNF128,IFNA5/TMEM51,IFNA5/SEMA4A,IFNA5/TMEM106A,EBLN2/SEMA4A,EBLN2/GAPT,EBLN2/PION,ADAP2/RBM47,TMEM51/PION,TMEM51/GAPT,TMEM51/CYBB,TMEM51/PAX9,MND1/CYBB,MND1/PION,MND1/GAPT,SEMA4A/CYBB,SEMA4A/RNF128,SEMA4A/PAX9,GAPT/CYBB,GAPT/RNF128,GAPT/GJB2,GAPT/HPS3,GAPT/RBM47,PION/RBM47,PION/SLC7A14,PION/RNF128,CDC42/PAX9,CDC42/FPR3,CDC42/LACC1,CYBB/LACC1,RBM47/CYBB,RBM47/EBLN2,RBM47/ADAP2,SLC7A14/EBLN2,SLC7A14/ADAP2,SLC7A14/TIMP2,SLC7A14/PION,FAM156A/CDC42,FAM156A/CYBB,FAM156A/RNF128,FAM156A/GJB2,FAM156A/CASP4,RN5S24/LACC1,RN5S24/RNF128,RN5S24/RBM47,RN5S24/CDC42,IRAK3/GJB2,IRAK3/SLC7A14,IRAK3/PYGL,IRAK3/GCA,PSTPIP2/PYGL,PSTPIP2/SNORA55,PSTPIP2/HPS3,RDM1/PYGL,RDM1/LACC1,RDM1/SLC7A14,HPS3/CDC42,HPS3/TIMP2,HPS3/PION,TIMP2/SEMA4A,TIMP2/CYBB,TIMP2/SLC7A14,LILRB4/PION,LILRB4/SEMA4A,C15orf53/CDC42,C15orf53/RBM47,AIF1/CDC42,AIF1/SLC7A14,SNORA55/GJB2,SNORA55/SLC7A14,OR52R1/RBM47,OR52R1/GJB2,BEND7/HPS3,BEND7/RBM47,RNF130/FAM156A,RNF130/GJB2,RNF130/RN5S24,IRAK3/CTSS,SPG21/FAM156A,SPG21/AIF1,MRAS/RDM1,MRAS/GCA,CTSS/FAM156A,CTSS/PYGL,CTSS/IRAK3,GLUL/PYGL,GLUL/FAM156A,GLUL/STOX1,GLUL/CD40,P4HA1/RDM1,P4HA1/GCA,FCGR1A/GCA,FCGR1A/IRAK3,FCGR1A/RN5S24,CLIC3/RDM1,CLIC3/PSTPIP2,CLIC3/MRAS,ARHGEF11/IRAK3,ARHGEF11/RNF130,ARHGEF11/CTSS,ACVR2A/RNF130,ACVR2A/PSTPIP2,ACVR2A/BEND7,CLEC6A/RNF130,CLEC6A/LDLR,DUSP3/BEND7,DUSP3/LDLR,DUSP3/MRAS,RGS1/MRAS,PDGFC/MRAS,PDGFC/CTSS,SGK1/ARHGEF11,
GAPT/DPY19L1,GAPT/AOC3,SEMA4A/MGLL,CEP95/MGLL,CEP95/DPY19L1,TMEM106A/IQCJ,TMEM51/IQCJ,IGSF6/PRR20A,MGLL/PRR20A,IQCJ/AOC3,C6orf136/AOC3,C6orf136/PRR20A,CLEC4A/PRR20A,LOC654433/SNORA31,LOC654433/LILRB2,LRRCC1/LILRB2,SLC35A3/LOC100288884,
LOC100133299/HIVEP1,LOC100133299/GSG1,LOC100133299/MMP19,LOC100133299/FLVCR2,LOC100133299/IGHV461,LOC100133299/DUSP3,LOC283174/FLVCR2,LOC283174/IGHV461,LOC283174/RNASE12,NMRK1/DUSP3,ATXN7L1/FLVCR2,ATXN7L1/IGHV461,TAS2R43/DUSP3,TAS2R43/CLEC6A,PDLIM1/RGS1,PDLIM1/DUSP3,AQP9/HIVEP1,AQP9/SPACA7,RNASE12/SDCBP,RNASE12/SPACA7,RNASE12/BLM,SNX10/KRTAP201,SNX10/STX11,DAB2/KRTAP201,DAB2/RNASE12,FCGBP/RNASE12,FCGBP/STX11,RN5S440/KRTAP201,
MIR15A/L1,CEP63/R1,ADAMDEC1/R2,ZNF223/R4,C1orf74/R6,STOX1/R8,CCDC13/R12,EGR1/L4,IGHV374/L6,F2RL1/L8,GPRASP2/B1,GRINA/B3,USP46/B4,TMEM31/B9,LOC100505687/B11,IGSF6/B10,SNORA31/B6,PRR20A/B7,EMP1/T6,ASAH1/T8,TRNAF16P/T3,RN5S440/T1,FEZ1/T7,UBE2D1/T10,NMRK1/T4,
PLBD1/T11,RNU75P/T15,OR51G1/T15,INVS/R2,EOGT/R16,ZBED2/R17,CD40/R19,KCNJ15/R20,EGR1/L5,LILRB2/B16,AOC3/B15,MGLL/B12}
  \draw[sedge] (\a) -- (\b);
\foreach \a/\b in {
RN5S440/TAS2R43,RN5S440/LOC283174,RN5S440/DAB2,RN5S440/ATXN7L1,RN5S440/PLBD1,RNU75P/UBE2D1,ENTPD5/SNORA14A,SNORA14A/RNY4P9,SNORA14A/CEP63,ZFP36/RNY4P9,ZFP36/INVS,ZFP36/C9orf72,UBE2D1/ZFP36,TRNAF16P/LOC283174,TRNAF16P/AQP9,TRNAF16P/NMRK1,EMP1/NMRK1,NMRK1/ATXN7L1,NMRK1/SGK1,PLBD1/SGK1,PLBD1/JAM3,PDLIM1/SGK1,PDLIM1/OR51G1,JAM3/DPCR1,JAM3/CRIM1,LOC283174/CRIM1,LOC283174/LOC401589,LOC283174/RGS1,LOC100133299/LOC283174,LOC100133299/NMRK1,LOC100133299/RNASE12,LOC100133299/KRTAP201,LOC100133299/STX11,LOC100133299/ANKS6,FCGBP/AQP9,FCGBP/LOC100133299,DAB2/AQP9,TAS2R43/C9orf72,TAS2R43/RPRD2,OR51G1/SOS2,C9orf72/CEP57L1,C9orf72/INVS,SOS2/EOGT,CEP63/CPM,CEP63/EOGT,INVS/ADAMDEC1,INVS/CPM,CEP57L1/ADAMDEC1,CEP57L1/EOGT,EOGT/ADAMDEC1,PPAP2B/INVS,PPAP2B/CEP63,RNY4P9/INVS,RNY4P9/EOGT,RNU75P/FEZ1,RNU75P/JAM3,RNU75P/EMP1,ASAH1/UBE2D1,ASAH1/JAM3,ENTPD5/ZFP36,ENTPD5/C9orf72,DAB2/LOC100133299,DAB2/ATXN7L1,SNX10/FCGBP,DAB2/NMRK1,TAS2R43/ATXN7L1,CRIM1/C9orf72,PDLIM1/C9orf72,DPCR1/INVS,FEZ1/SOS2,JAM3/C9orf72,
MIR15A/LOC100133299,MIR15A/BLM,ANKS6/KRTAP201,ANKS6/SPACA7,HMOX1/IGKV37,HMOX1/HIVEP1,STX11/SPACA7,STX11/SCG5,STX11/MMP19,AQP9/TFEC,AQP9/SDCBP,RNASE12/TFEC,RNASE12/HIVEP1,RNASE12/OR8K3,IGHV461/LDLR,IGHV461/TFEC,IGHV461/NDUFV3,IGHV461/TRGV9,IGHV461/BEND7,BLM/SCG5,BLM/IGKV37,BLM/SDCBP,MMP19/TRGV9,MMP19/RN5S84,FLVCR2/RN5S84,FLVCR2/C3orf35,FLVCR2/TRGV9,FLVCR2/BEND7,SPACA7/SDCBP,SPACA7/ANKRD36C,SPACA7/RBMS1,GSG1/SCG5,GSG1/TRGV9,HIVEP1/RBMS1,HIVEP1/TSPAN7,HIVEP1/ANKRD36C,TFEC/RN5S84,TFEC/LALBA,OR8K3/TRGV9,OR8K3/C3orf35,OR8K3/NDUFV3,IGKV37/NOBOX,IGKV37/RBMS1,IGKV37/TSPAN7,SCG5/TSPAN7,SCG5/ABCC3,SDCBP/RBMS1,SDCBP/LALBA,TRGV9/RBMS1,TRGV9/TSPAN7,ANKRD36C/TSPAN7,ANKRD36C/ELSPBP1,RBMS1/ELSPBP1,TSPAN7/ELSPBP1,TSPAN7/TET2,LALBA/LOC642424,NOBOX/RBMS1,ABCC3/ELSPBP1,TRGV9/TET2,LALBA/TET2,C3orf35/LOC642424,RN5S449/LOC654433,LOC642424/LOC654433,LOC642424/LILRB4,RN5S449/LILRB4,RN5S449/C3orf35,AQP9/MMP19,AQP9/IGHV461,RNASE12/DUSP3,RNASE12/ATXN7L1,RNASE12/SGK1,IGHV461/SGK1,IGHV461/RGS1,KRTAP201/MMP19,KRTAP201/TFEC,HMOX1/SCG5,ANKS6/BLM,STX11/IGKV37,SPACA7/TSPAN7,IGKV37/ABCC3,NOBOX/ELSPBP1,ANKRD36C/ABCC3,TSPAN7/LALBA,RBMS1/ABCC3,
C3orf35/LILRB4,C3orf35/AIF1,LILRB4/RNU5E4P,DUSP3/CLEC4D,LDLR/C3orf35,BEND7/C3orf35,SPG21/CLEC4D,CLEC6A/CLEC4D,NDUFV3/CLEC4D,NDUFV3/LDLR,OR52R1/C3orf35,RN5S84/AIF1,RN5S449/AIF1,RN5S449/CLEC4D,RN5S449/HPS3,ATXN7L1/DUSP3,ATXN7L1/RGS1,ATXN7L1/CLEC6A,SGK1/CLEC6A,RGS1/SPG21,PDGFC/SPG21,CLIC3/CTSS,CLIC3/GLUL,RPRD2/RASSF4,CEP57L1/ZNF223,CEP57L1/RASSF4,RPRD2/ZNF223,EOGT/RASSF4,EOGT/C1orf74,CPM/ADAMDEC1,ADAMDEC1/ZNF223,ADAMDEC1/STOX1,ADAMDEC1/C1orf74,ZBED2/STOX1,ZBED2/C1orf74,ZBED2/RASSF4,ZBED2/DMXL2,ZBED2/CASP4,STOX1/DMXL2,STOX1/SETMAR,C1orf74/CASP4,C1orf74/DMXL2,TRNAQ48P/SETMAR,TRNAQ48P/CCDC13,TRNAQ48P/CD40,CCDC13/FPR3,CCDC13/KCNJ15,CCDC13/SETMAR,CCDC13/DMXL2,SETMAR/FPR3,SETMAR/LACC1,FGF2/CCDC13,DCUN1D/CCDC13,CD40/KCNJ15,RNY4P9/PPAP2B,INVS/RASSF4,EOGT/GLUL,ZNF223/GLUL,ZNF223/STOX1,RASSF4/GCA,RDM1/STOX1,GCA/DMXL2,CASP4/SETMAR,DMXL2/FPR3,SETMAR/KCNJ15,
TRNAQ41P/BOC,TRNAQ41P/IGHV374,EGR1/GPRASP2,EGR1/GRINA,EGR1/TP73AS1,NPM2/GRINA,NPM2/CPA2,NPM2/GPRASP2,F2RL1/GPRASP2,F2RL1/USP46,IGHV374/GRINA,GPRASP2/CPA2,GPRASP2/KIAA1586,GPRASP2/USP46,GRINA/USP46,CPA2/SNORD116,KIAA1586/SNORD116,USP46/SNORD116,USP46/TMEM31,USP46/PRR20A,SEMA4F/STARD9,SEMA4F/SKA2,SEMA4F/LILRB2,SEMA4F/KIAA1586,SEMA4F/CPA2,SNORA31/TET2,SNORA31/SLC35A3,SNORA31/SKA2,SLC35A3/LRRCC1,SLC35A3/SKA2,SLC35A3/LILRB2,SLC35A3/PRR20A,LRRCC1/AOC3,LRRCC1/TET2,LRRCC1/DPY19L1,LRRCC1/TMEM31,ELSPBP1/LOC654433,SKA2/LOC654433,TET2/CLEC4A,LOC654433/IGSF6,LOC654433/MGLL,AOC3/MGLL,AOC3/LOC100505687,PRR20A/LOC100505687,TMEM31/C6orf136,TMEM31/MGLL,DPY19L1/LOC100505687,IGSF6/IQCJ,CLEC4A/IQCJ,CLEC4A/C6orf136,MGLL/C6orf136,IQCJ/SEMA4A,FUT1/SEMA4A,FUT1/C6orf136,ZNF93/TMEM51,ZNF93/CEP95,CEP95/PDE4DIP,CEP95/PLA2G7,NEO1/PDE4DIP,NEO1/FGF2,PLA2G7/PDE4DIP,PLA2G7/TMEM106A,DCUN1D/NEO1,DCUN1D/MND1,DCUN1D/PLA2G7,LOC100505687/C6orf136,IQCJ/LOC100505687,CLEC4A/TMEM31,TRNAQ41P/LOC100288884,TP73AS1/F2RL1,TP73AS1/RNU6ATAC3P,POM121L9P/STARD9,POM121L9P/ELSPBP1,BOC/NPM2,ELSPBP1/STARD9,ELSPBP1/SLC35A3,SKA2/SNORA31,TET2/SNORA31,TET2/KIAA1586,SLC35A3/KIAA1586,LRRCC1/PRR20A,LRRCC1/SNORA31,AOC3/KIAA1586,DPY19L1/SNORA31,DPY19L1/PRR20A,IGSF6/TMEM31,MGLL/TMEM31,FUT1/IQCJ,FUT1/CEP95,ZNF93/FUT1,C6orf136/SEMA4A,C6orf136/TMEM106A,LILRB4/GAPT,RNU5E4P/CDC42,
TRNAF16P/LOC100133299,TRNAF16P/DAB2,TRNAF16P/SNX10,TRNAF16P/PLBD1,TRNAF16P/PDLIM1,EMP1/PLBD1,EMP1/SGK1,ASAH1/OR51G1,ASAH1/SOS2,ENTPD5/DPCR1,ENTPD5/RPRD2,SNORA14A/SOS2,SNORA14A/INVS,RNY4P9/SOS2,RNY4P9/CEP57L1,UBE2D1/RPRD2,UBE2D1/CEP57L1,FEZ1/C9orf72,FEZ1/PDLIM1,PLBD1/LOC401589,NMRK1/RGS1,LOC283174/PDGFC,DAB2/RNASE12,SNX10/RNASE12,LOC100133299/ATXN7L1,LOC100133299/SGK1,CPM/EOGT,CPM/CEP57L1,PPAP2B/EOGT,PPAP2B/ZNF223,ADAMDEC1/RASSF4,ADAMDEC1/ZBED2,EOGT/ZBED2,EOGT/STOX1,INVS/C1orf74,CEP57L1/C1orf74,RPRD2/GLUL,SOS2/ZNF223,SOS2/P4HA1,C9orf72/P4HA1,C9orf72/FCGR1A,OR51G1/CLIC3,CRIM1/RGS1,CRIM1/ACVR2A,
T2/AQP9,T3/SNX10,T4/LOC283174,T5/SGK1,T14/DAB2,T11/PDLIM1,T11/TAS2R43,T15/CRIM1,T7/OR51G1,T10/DPCR1,T12/CEP63,T12/SOS2,T13/INVS,T13/CEP63,T8/C9orf72,
R15/EOGT,R16/ZNF223,R2/CPM,R3/INVS,R14/RASSF4,R17/C1orf74,R18/DMXL2,R18/TRNAQ48P,R19/CCDC13,R20/FPR3,R12/KCNJ15,R13/FGF2,R1/PPAP2B,R5/ZNF223,
L11/TRNAQ41P,L11/POM121L9P,L3/NPM2,L4/IGHV374,L9/F2RL1,L10/EGR1,B2/GPRASP2,B3/GRINA,B4/CPA2,B5/KIAA1586,B16/LILRB2,B13/SNORA31,B15/PRR20A,B8/TMEM31,B14/AOC3,B9/MGLL,B10/C6orf136,B12/C6orf136,
MIR15A/L2,EGR1/L3,EGR1/L5,IGHV374/L7,GRINA/L9,TRNAQ41P/L10,RN5S440/T2,DAB2/T3,LOC283174/T5,PDLIM1/T4,SNORA14A/T9,ENTPD5/T9,RNY4P9/R3,ZBED2/R5,ZBED2/R14,STOX1/R7,TRNAQ48P/R9,SETMAR/R10,SETMAR/R11,CCDC13/R11,DCUN1D/R13,LOC100505687/B12,C6orf136/B11,KIAA1586/B13,SNORD116/B5,USP46/B14,TMEM31/B10,SNX10/T1,NMRK1/T5,EMP1/T7,ASAH1/T9}
  \draw[dedge] (\a) -- (\b);
\end{scope}
\end{pgfonlayer}
\end{scope}
\end{tikzpicture}
\end{document}
